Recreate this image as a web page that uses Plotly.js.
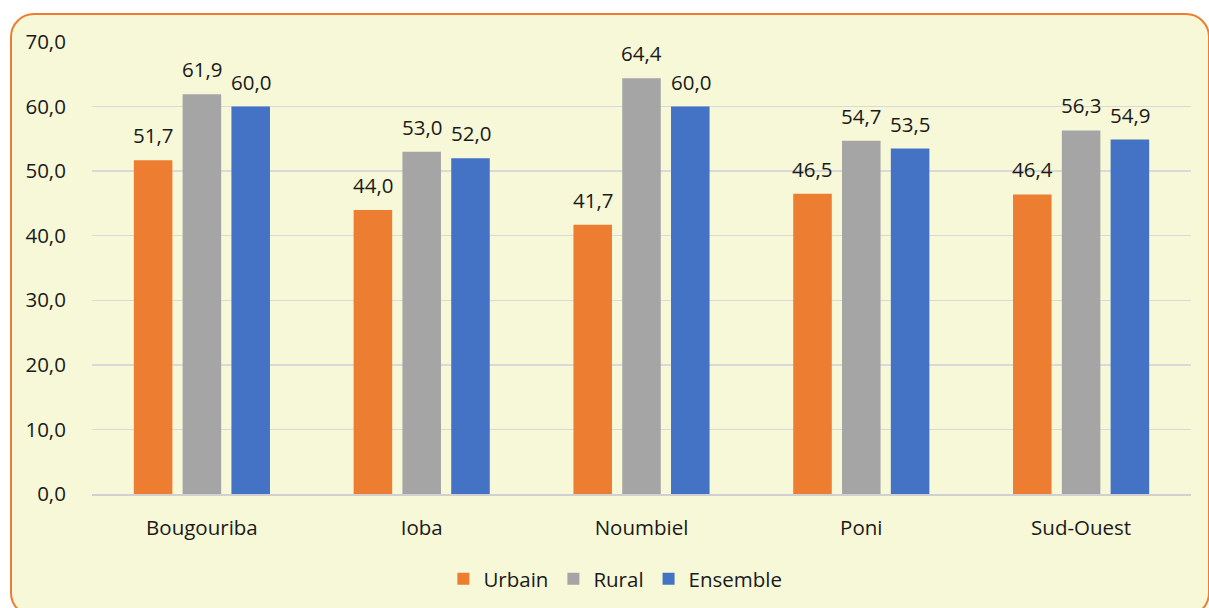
<!DOCTYPE html>
<html><head><meta charset="utf-8">
<script src="https://cdn.plot.ly/plotly-3.0.1.min.js"></script>
<style>
html,body{margin:0;padding:0;background:#fff;overflow:hidden;width:1209px;height:608px;}
#box{position:absolute;left:10px;top:13px;width:1196px;height:600px;background:#F7F8D7;border:2px solid #ED7D31;border-radius:24px;}
#chart{position:absolute;left:0;top:0;width:1209px;height:608px;}
</style></head>
<body>
<div id="box"></div>
<div id="chart"></div>
<script>
const categories = ["Bougouriba", "Ioba", "Noumbiel", "Poni", "Sud-Ouest"];
const urbain = [51.7, 44.0, 41.7, 46.5, 46.4];
const rural = [61.9, 53.0, 64.4, 54.7, 56.3];
const ensemble = [60.0, 52.0, 60.0, 53.5, 54.9];
const seriesNames = ["Urbain", "Rural", "Ensemble"];
const colors = ["#ED7D31", "#A5A5A5", "#4472C4"];
const yTicks = [0, 10, 20, 30, 40, 50, 60, 70];

const font = "'Open Sans', 'Noto Sans', sans-serif";
const seriesData = [urbain, rural, ensemble];
const traces = seriesData.map((vals, i) => ({
  type: "bar", name: seriesNames[i], x: categories, y: vals,
  marker: {color: colors[i]}, hoverinfo: "none"
}));
const shifts = [-49, 0, 49];
const annotations = [];
seriesData.forEach((vals, i) => {
  vals.forEach((v, j) => {
    annotations.push({x: categories[j], y: v, xref: "x", yref: "y",
      text: v.toFixed(1).replace(".", ","), showarrow: false,
      xshift: shifts[i], yshift: 25, yanchor: "middle",
      font: {family: font, size: 20.5, color: "#1a1a1a"}});
  });
});
annotations.push({xref: "paper", yref: "paper", x: -0.005, y: 1.085, xanchor: "left", yanchor: "bottom",
  text: "<b>ables</b>", showarrow: false, font: {family: font, size: 20, color: "#9BBB1A"}});

const layout = {
  width: 1209, height: 608,
  margin: {l: 92, r: 18, t: 42, b: 114},
  paper_bgcolor: "rgba(0,0,0,0)", plot_bgcolor: "rgba(0,0,0,0)",
  barmode: "group", bargap: 0.334, bargroupgap: 0.21,
  font: {family: font, size: 20.5, color: "#1a1a1a"},
  xaxis: {type: "category", automargin: false, showgrid: false, showline: true, linecolor: "#D0D0D0", linewidth: 1.5,
    ticks: "outside", ticklen: 15, tickcolor: "rgba(0,0,0,0)", tickfont: {family: font, size: 20.5}},
  yaxis: {range: [0, 70], automargin: false, tickvals: yTicks, ticktext: yTicks.map(v => v.toFixed(1).replace(".", ",")),
    showgrid: true, gridcolor: "#D9D9D9", gridwidth: 1.5, zeroline: false, showline: false,
    ticks: "outside", ticklen: 21, tickcolor: "rgba(0,0,0,0)", tickfont: {family: font, size: 20.5}},
  legend: {orientation: "h", xref: "container", yref: "container", x: 0.509, xanchor: "center", y: 0.048, yanchor: "middle",
    font: {family: font, size: 20.5}, traceorder: "normal", itemwidth: 30},
  annotations: annotations,
  showlegend: true
};
Plotly.newPlot("chart", traces, layout, {displayModeBar: false, staticPlot: true});
</script>
</body></html>
